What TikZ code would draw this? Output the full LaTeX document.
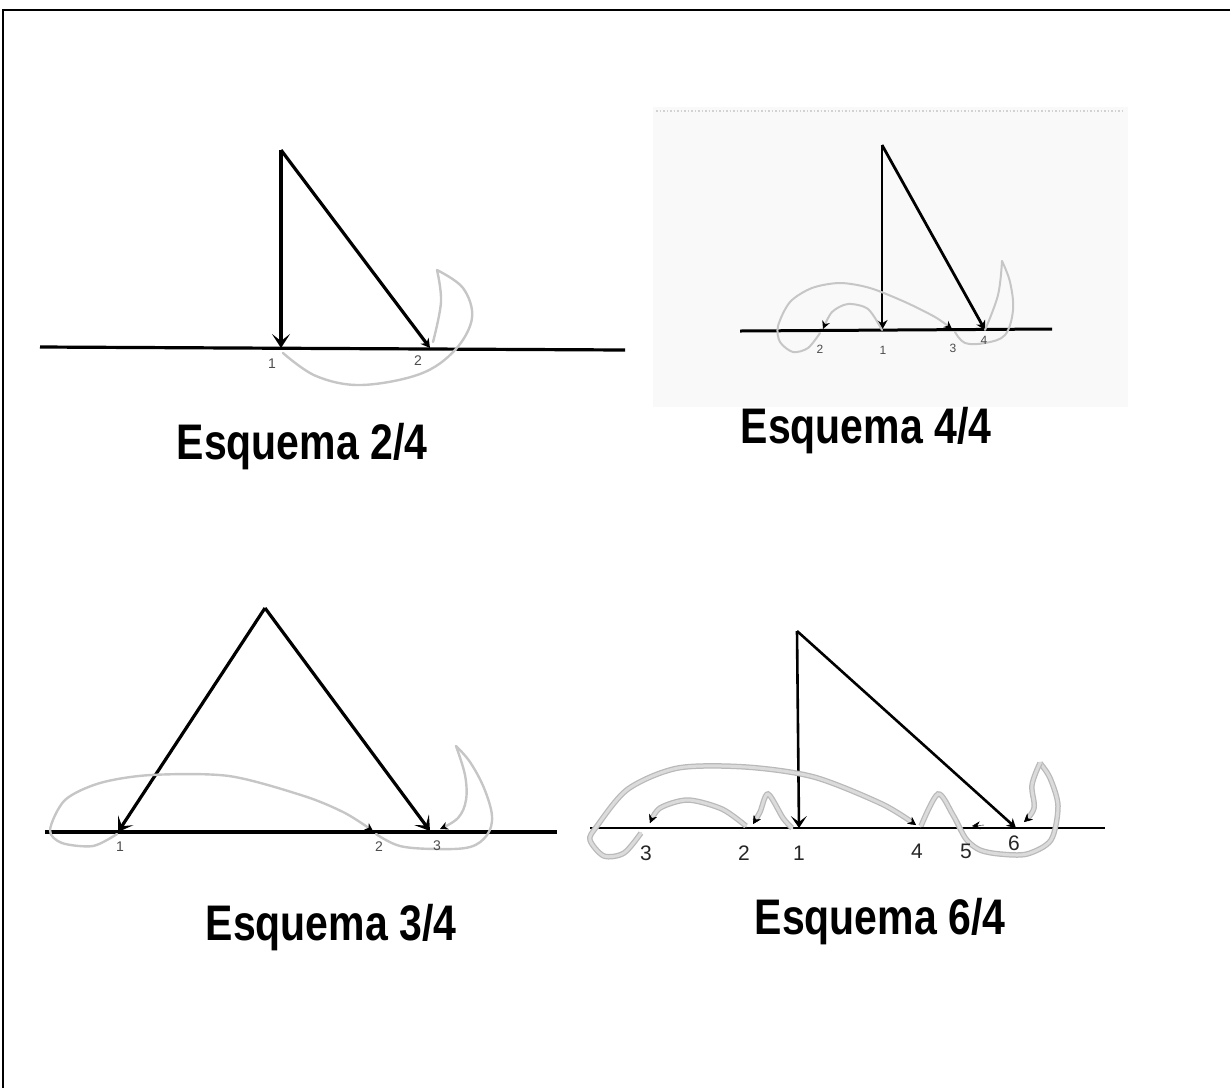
\documentclass[tikz,border=0pt]{standalone}
\usepackage{fontspec}
\setmainfont{Liberation Sans}
\newfontfamily\schemefont[FakeStretch=0.82]{Liberation Sans}
\usetikzlibrary{arrows.meta,positioning}

\begin{document}
\begin{tikzpicture}[x=1pt, y=-1pt,
  caption/.style={font=\schemefont\bfseries\fontsize{50}{60}\selectfont, inner sep=0pt, anchor=base},
  ground/.style={line width=3.2pt},
  leg/.style={line width=3.2pt, -{Stealth[length=14pt, width=18pt, inset=7pt]}},
  legsmall/.style={line width=3.2pt, -{Stealth[length=9pt, width=10pt]}},
  trail/.style={gray!45, line width=2.4pt, line cap=round},
  trailwide/.style={gray!28, line width=3pt, line cap=round, preaction={draw=gray!55, line width=5.5pt}},
  tip/.style={-{Stealth[color=black, length=8pt, width=8pt]}},
  digit/.style={font=\fontsize{14}{16}\selectfont, text=black!70, inner sep=0pt}]

\useasboundingbox (0,0) rectangle (1230,1088);

\draw[line width=2pt] (3,1088) -- (3,10) -- (1230,10);

% Esquema 2/4
\coordinate (top1) at (281,150);
\coordinate (p11) at (281,348);
\coordinate (p12) at (430,348);

\draw[ground] (40,347) -- (625,350);

\draw[leg] (top1) -- (p11);

\draw[legsmall] (top1) -- (p12);

\draw[trail] plot[smooth, tension=0.6] coordinates {(283,353) (316,376) (361,385) (420,374) (455,350) (472,318) (463,288) (437,270)};
\draw[trail] plot[smooth, tension=0.6] coordinates {(437,270) (441,302) (433,342)};

\node[digit] (n11) at (272,364) {1};
\node[digit] (n12) at (418,361) {2};

\node[caption] (cap1) at (302,459) {Esquema 2/4};

% Esquema 4/4
\fill[gray!5] (653,107) rectangle (1128,407);
\draw[gray!35, dotted, line width=1.5pt] (656,111) -- (1125,111);

\coordinate (top2) at (882,145);
\coordinate (p21) at (882,330);
\coordinate (p22) at (823,329);
\coordinate (p23) at (952,329);
\coordinate (p24) at (985,330);

\draw[ground, line width=3pt] (740,331) -- (1052,329);

\draw[leg, line width=2.8pt, -{Stealth[length=10pt, width=11pt]}] (top2) -- (p21);

\draw[legsmall, line width=2.8pt] (top2) -- (p24);

\draw[trail, line width=2pt, tip] plot[smooth] coordinates {(p21) (868,309) (848,304) (832,312) (p22)};
\draw[trail, line width=2pt, tip] plot[smooth] coordinates {(820,333) (808,348) (793,352) (780,342) (778,326) (790,302) (812,288) (840,283) (870,288) (905,302) (935,317) (p23)};
\draw[trail, line width=2pt] plot[smooth, tension=0.6] coordinates {(955,332) (965,343) (985,343) (1005,335) (1013,310) (1010,282) (1002,261)};
\draw[trail, line width=2pt] plot[smooth, tension=0.6] coordinates {(1002,261) (998,295) (p24)};

\node[digit, font=\fontsize{12}{14}\selectfont] (n22) at (820,349) {2};
\node[digit, font=\fontsize{12}{14}\selectfont] (n21) at (883,350) {1};
\node[digit, font=\fontsize{12}{14}\selectfont] (n23) at (953,348) {3};
\node[digit, font=\fontsize{12}{14}\selectfont] (n24) at (984,340) {4};

\node[caption] (cap2) at (866,443) {Esquema 4/4};

% Esquema 3/4
\coordinate (top3) at (265,608);
\coordinate (p31) at (118,832);
\coordinate (p32) at (373,831);
\coordinate (p33) at (430,831);

\draw[ground] (45,832) -- (557,832);

\draw[leg] (top3) -- (p31);

\draw[leg] (top3) -- (p33);

\draw[trail, tip] plot[smooth] coordinates {(117,834) (93,846) (62,843) (50,830) (65,800) (100,783) (151,775) (229,776) (304,796) (345,813) (p32)};
\draw[trail] plot[smooth, tension=0.6] coordinates {(376,834) (400,846) (437,849) (470,847) (487,835) (492,816) (484,788) (470,762) (456,746)};
\draw[trail, tip] plot[smooth, tension=0.6] coordinates {(456,746) (465,775) (466,800) (458,818) (440,829)};

\node[digit] (n31) at (120,847) {1};
\node[digit] (n32) at (379,847) {2};
\node[digit] (n33) at (437,846) {3};

\node[caption] (cap3) at (331,940) {Esquema 3/4};

% Esquema 6/4
\coordinate (top4) at (797,631);
\coordinate (p41) at (799,828);
\coordinate (p42) at (753,824);
\coordinate (p43) at (650,823);
\coordinate (p44) at (916,825);
\coordinate (p45) at (972,826);
\coordinate (p46) at (1016,828);

\draw[ground, line width=2.6pt] (590,828) -- (1105,828);

\draw[leg, line width=2.6pt, -{Stealth[length=12pt, width=16pt, inset=6pt]}] (top4) -- (p41);

\draw[legsmall, line width=2.6pt] (top4) -- (p46);

\draw[trailwide, tip] plot[smooth] coordinates {(792,828) (783,818) (768,794) (760,812) (p42)};
\draw[trailwide, tip] plot[smooth] coordinates {(746,826) (722,809) (688,800) (660,808) (p43)};
\draw[trailwide, tip] plot[smooth] coordinates {(641,833) (624,853) (604,856) (590,840) (597,826) (628,789) (678,768) (746,767) (814,777) (882,804) (p44)};
\draw[trailwide] plot[smooth] coordinates {(921,826) (938,794) (953,815) (966,839) (980,850) (1000,854) (1027,854) (1051,840) (1058,806) (1050,778) (1040,763)};
\draw[trailwide, tip] plot[smooth, tension=0.6] coordinates {(1040,763) (1032,785) (1034,808) (1024,822)};
\draw[tip] (984,825) -- (p45);

\node[digit, font=\fontsize{21}{24}\selectfont, text=black!85] (n43) at (646,853) {3};
\node[digit, font=\fontsize{21}{24}\selectfont, text=black!85] (n42) at (744,853) {2};
\node[digit, font=\fontsize{21}{24}\selectfont, text=black!85] (n41) at (799,853) {1};
\node[digit, font=\fontsize{21}{24}\selectfont, text=black!85] (n44) at (917,851) {4};
\node[digit, font=\fontsize{21}{24}\selectfont, text=black!85] (n45) at (966,851) {5};
\node[digit, font=\fontsize{21}{24}\selectfont, text=black!85] (n46) at (1014,843) {6};

\node[caption] (cap4) at (880,934) {Esquema 6/4};

\end{tikzpicture}
\end{document}
